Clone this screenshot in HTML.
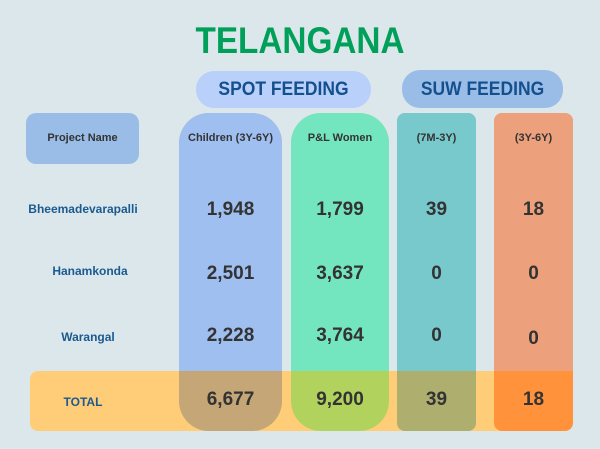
<!DOCTYPE html><html><head><style>
body{margin:0;width:600px;height:449px;background:#dce7eb;font-family:"Liberation Sans",sans-serif;position:relative;overflow:hidden}
div{position:absolute;box-sizing:border-box}
.t{font-weight:bold;text-align:center;color:#333}
.n{font-size:19px;font-weight:bold;color:#333;text-align:center}
.p{font-size:12px;font-weight:bold;color:#1a5a90;text-align:center}
</style></head><body>
<div class="t" style="left:0;width:600px;top:20px;font-size:37px;color:#00a05a;transform:scaleX(0.9)">TELANGANA</div>
<div style="left:196px;top:71px;width:175px;height:37px;border-radius:18px;background:#b8d0fa"></div>
<div class="t" style="left:196px;top:79px;width:175px;font-size:19px;color:#15508e;transform:scaleX(0.92)">SPOT FEEDING</div>
<div style="left:402px;top:70px;width:161px;height:38px;border-radius:18px;background:#9abde8"></div>
<div class="t" style="left:402px;top:79px;width:161px;font-size:19px;color:#15508e;transform:scaleX(0.92)">SUW FEEDING</div>
<div style="left:26px;top:113px;width:113px;height:51px;border-radius:10px;background:#9abde8"></div>
<div class="t" style="left:26px;top:132px;width:113px;font-size:11px">Project Name</div>
<div style="left:30px;top:371px;width:543px;height:60px;border-radius:8px;background:#ffcc77"></div>
<div style="left:179px;top:113px;width:103px;height:318px;border-radius:30px;background:#c4a677;overflow:hidden"><div style="left:0;top:0;width:103px;height:258px;background:#9fbff0"></div></div>
<div style="left:291px;top:113px;width:98px;height:318px;border-radius:30px;background:#b1d35e;overflow:hidden"><div style="left:0;top:0;width:98px;height:258px;background:#74e6bf"></div></div>
<div style="left:397px;top:113px;width:79px;height:318px;border-radius:8px;background:#aeae6e;overflow:hidden"><div style="left:0;top:0;width:79px;height:258px;background:#77c9cc"></div></div>
<div style="left:494px;top:113px;width:79px;height:318px;border-radius:8px;background:#ff923b;overflow:hidden"><div style="left:0;top:0;width:79px;height:258px;background:#eda07c"></div></div>
<div class="t" style="left:179px;top:132px;width:103px;font-size:11px">Children (3Y-6Y)</div>
<div class="t" style="left:291px;top:132px;width:98px;font-size:11px">P&amp;L Women</div>
<div class="t" style="left:397px;top:132px;width:79px;font-size:11px">(7M-3Y)</div>
<div class="t" style="left:494px;top:132px;width:79px;font-size:11px">(3Y-6Y)</div>
<div class="p" style="left:0;width:166px;top:202px">Bheemadevarapalli</div>
<div class="p" style="left:0;width:180px;top:264px">Hanamkonda</div>
<div class="p" style="left:0;width:176px;top:330px">Warangal</div>
<div class="p" style="left:0;width:166px;top:395px">TOTAL</div>
<div class="n" style="left:179px;width:103px;top:199px">1,948</div>
<div class="n" style="left:291px;width:98px;top:199px">1,799</div>
<div class="n" style="left:397px;width:79px;top:199px">39</div>
<div class="n" style="left:494px;width:79px;top:199px">18</div>
<div class="n" style="left:179px;width:103px;top:263px">2,501</div>
<div class="n" style="left:291px;width:98px;top:263px">3,637</div>
<div class="n" style="left:397px;width:79px;top:263px">0</div>
<div class="n" style="left:494px;width:79px;top:263px">0</div>
<div class="n" style="left:179px;width:103px;top:325px">2,228</div>
<div class="n" style="left:291px;width:98px;top:325px">3,764</div>
<div class="n" style="left:397px;width:79px;top:325px">0</div>
<div class="n" style="left:494px;width:79px;top:328px">0</div>
<div class="n" style="left:179px;width:103px;top:389px">6,677</div>
<div class="n" style="left:291px;width:98px;top:389px">9,200</div>
<div class="n" style="left:397px;width:79px;top:389px">39</div>
<div class="n" style="left:494px;width:79px;top:389px">18</div>
</body></html>
